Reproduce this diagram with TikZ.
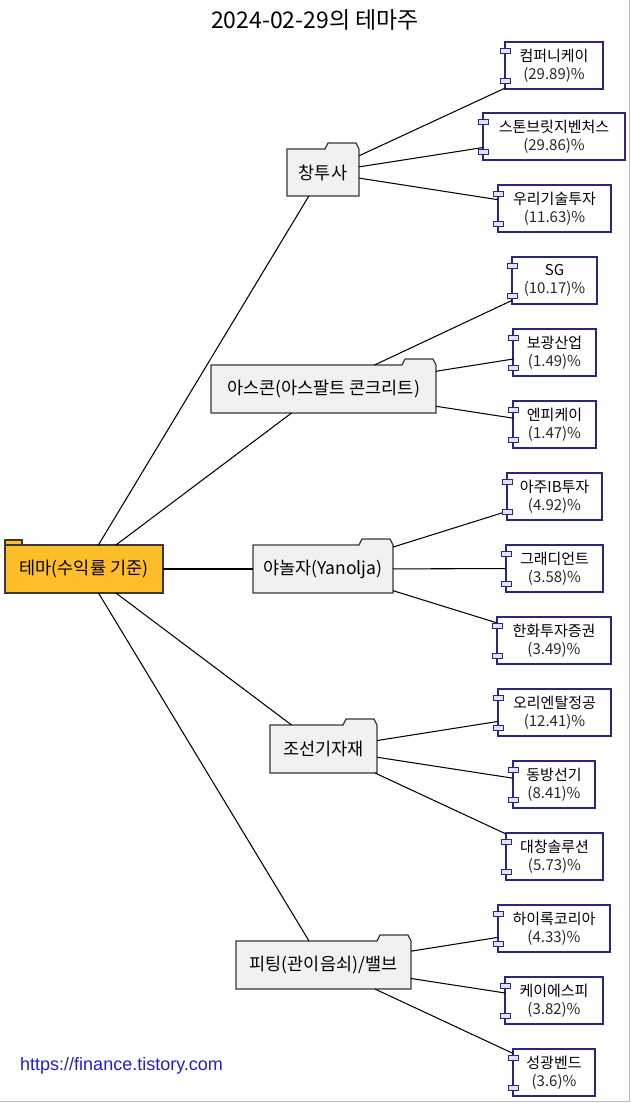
\documentclass[tikz,border=0pt]{standalone}
\usepackage{fontspec}
\setmainfont{Noto Sans CJK KR}
\newfontfamily\urlfont{Liberation Sans}
\definecolor{ffill}{RGB}{241,241,241}
\definecolor{fdraw}{RGB}{56,56,56}
\definecolor{rootfill}{RGB}{255,189,42}
\definecolor{cnavy}{RGB}{40,40,130}
\definecolor{csmall}{RGB}{226,226,244}
\definecolor{urlblue}{RGB}{32,32,208}
\definecolor{framegray}{RGB}{190,190,190}
\definecolor{pctgray}{RGB}{40,40,40}
\tikzset{
  folderline/.style={draw=fdraw, fill=ffill, line width=1.3pt, line join=miter},
  foldertext/.style={draw=none, inner sep=0pt, outer sep=0pt, font=\fontsize{17.5}{21}\selectfont},
  rootbox/.style={draw=fdraw, fill=rootfill, line width=1.3pt, inner sep=0pt, outer sep=0pt,
    minimum width=158pt, minimum height=48pt, font=\fontsize{17.5}{21}\selectfont},
  comp/.style={draw=cnavy, fill=white, line width=1.3pt, inner sep=0pt, outer sep=0pt,
    minimum height=47pt, align=center, font=\fontsize{15}{18}\selectfont},
  smallr/.style={draw=cnavy, fill=csmall, line width=1pt},
  edge/.style={draw=black, line width=1.05pt},
}
\newcommand\mkfolder[6]{%
  \draw[folderline] (#2,#5) -- (#2,#4) -- ({#3-34},#4) -- ({#3-31},{#4-6}) -- ({#3-3},{#4-6}) -- (#3,#4) -- (#3,#5) -- cycle;
  \node[foldertext, minimum width={(#3-#2)*1pt}, minimum height={(#5-#4)*1pt}] (#1) at ({(#2+#3)/2},{(#4+#5)/2}) {#6};%
}
\newcommand\mkleaf[6]{%
  \node[comp, minimum width={(#3-#2)*1pt}] (#1) at ({(#2+#3)/2},{#4+23.5}) {#5\\\textcolor{pctgray}{#6}};%
}
\newcommand\smallrects[1]{%
  \draw[smallr] ([xshift=-5pt,yshift=-6pt]#1.north west) rectangle ++(10pt,-5pt);
  \draw[smallr] ([xshift=-5pt,yshift=6pt]#1.south west) rectangle ++(10pt,5pt);%
}
\begin{document}
\begin{tikzpicture}[x=1pt,y=-1pt]
\useasboundingbox (0,0) rectangle (631,1103);
\fill[white] (0,0) rectangle (631,1103);
\draw[framegray, line width=1pt] (629,0) -- (629,1101) -- (0,1101);

\node[font=\fontsize{23}{27}\selectfont, inner sep=0pt] (title) at (315,20) {2024-02-29의 테마주};

% root
\node[rootbox] (root) at (84,569) {테마(수익률 기준)};
\draw[draw=fdraw, fill=rootfill, line width=1.1pt] (5,540) rectangle (22,545);

% folders
\mkfolder{f1}{287}{359}{149}{196}{창투사}
\mkfolder{f2}{211}{436}{365}{413}{아스콘(아스팔트 콘크리트)}
\mkfolder{f3}{253}{393}{545}{593}{야놀자(Yanolja)}
\mkfolder{f4}{270}{377}{725}{773}{조선기자재}
\mkfolder{f5}{236}{411}{941}{989}{피팅(관이음쇠)/밸브}

% leaves
\mkleaf{c1}{505}{603}{42}{컴퍼니케이}{(29.89)\%}
\mkleaf{c2}{483}{625}{113}{스톤브릿지벤처스}{(29.86)\%}
\mkleaf{c3}{498}{611}{185}{우리기술투자}{(11.63)\%}
\mkleaf{a1}{512}{597}{257}{SG}{(10.17)\%}
\mkleaf{a2}{513}{596}{329}{보광산업}{(1.49)\%}
\mkleaf{a3}{513}{596}{401}{엔피케이}{(1.47)\%}
\mkleaf{y1}{507}{602}{473}{아주IB투자}{(4.92)\%}
\mkleaf{y2}{506}{603}{545}{그래디언트}{(3.58)\%}
\mkleaf{y3}{497}{611}{617}{한화투자증권}{(3.49)\%}
\mkleaf{j1}{498}{611}{689}{오리엔탈정공}{(12.41)\%}
\mkleaf{j2}{513}{595}{761}{동방선기}{(8.41)\%}
\mkleaf{j3}{506}{603}{833}{대창솔루션}{(5.73)\%}
\mkleaf{p1}{498}{610}{905}{하이록코리아}{(4.33)\%}
\mkleaf{p2}{505}{603}{977}{케이에스피}{(3.82)\%}
\mkleaf{p3}{513}{595}{1049}{성광벤드}{(3.6)\%}

% edges
\draw[edge] (root) -- (f1);
\draw[edge] (root) -- (f2);
\draw[edge] (root) -- (f3);
\draw[edge] (root) -- (f4);
\draw[edge] (root) -- (f5);
\draw[edge] (f1) -- (c1);
\draw[edge] (f1) -- (c2);
\draw[edge] (f1) -- (c3);
\draw[edge] (f2) -- (a1);
\draw[edge] (f2) -- (a2);
\draw[edge] (f2) -- (a3);
\draw[edge] (f3) -- (y1);
\draw[edge] (f3) -- (y2);
\draw[edge] (f3) -- (y3);
\draw[edge] (f4) -- (j1);
\draw[edge] (f4) -- (j2);
\draw[edge] (f4) -- (j3);
\draw[edge] (f5) -- (p1);
\draw[edge] (f5) -- (p2);
\draw[edge] (f5) -- (p3);

\foreach \n in {c1,c2,c3,a1,a2,a3,y1,y2,y3,j1,j2,j3,p1,p2,p3} {\smallrects{\n}}

\node[anchor=base west, inner sep=0pt, text=urlblue, font=\urlfont\fontsize{18}{22}\selectfont] (url) at (20,1070) {https://finance.tistory.com};
\end{tikzpicture}
\end{document}
